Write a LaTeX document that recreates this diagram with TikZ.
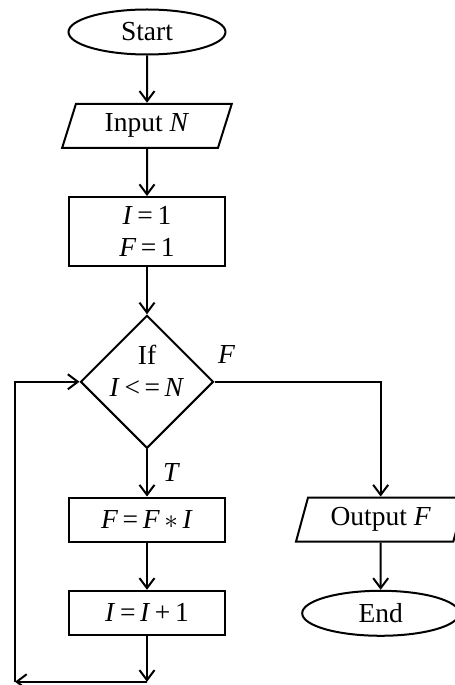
\documentclass[tikz,border=0pt]{standalone}
\usepackage{fontspec}
\setmainfont{Liberation Serif}
\usetikzlibrary{arrows.meta,positioning,shapes.geometric,calc}

\begin{document}
\begin{tikzpicture}[x=0.4pt,y=-0.4pt,node distance=18.9pt,line width=0.8pt,every node/.style={font=\fontsize{11}{12.8}\selectfont},term/.style={draw,ellipse,minimum width=62.8pt,minimum height=18pt,inner sep=0pt},io/.style={draw,trapezium,trapezium left angle=71,trapezium right angle=109,trapezium stretches=true,minimum width=68pt,minimum height=17.6pt,inner sep=0pt},proc/.style={draw,rectangle,align=center,minimum width=62.4pt,minimum height=17.6pt,inner sep=0pt},test/.style={draw,diamond,minimum width=53.2pt,minimum height=53.2pt,inner sep=0pt},lbl/.style={inner sep=0pt},arr/.style={-{Straight Barb[length=4pt,width=6pt]}}]
\useasboundingbox (0,0) rectangle (454,685);
\node[term] (start) at (147,32) {Start};
\node[io,below=of start] (input) {Input \textit{N}};
\node[proc,minimum height=27.6pt,below=of input] (init) {\textit{I}\,=\,1\\\textit{F}\,=\,1};
\node[test,below=of init] (cond) {};
\node[lbl,align=center] (condtxt) at ([yshift=4.4pt]cond.center) {If\\\textit{I}\,<\,=\,\textit{N}};
\node[proc,below=of cond] (fact) {\textit{F}\,=\,\textit{F}\,$\ast$\,\textit{I}};
\node[proc,below=of fact] (inc) {\textit{I}\,=\,\textit{I}\,+\,1};
\node[io,right=30pt of fact] (output) {Output \textit{F}};
\node[term,below=of output] (stop) {End};
\node[lbl,anchor=south west] (flab) at ([shift={(1pt,6.8pt)}]cond.east) {\textit{F}};
\coordinate[below=18.4pt of inc] (loopB);
\coordinate[left=52.8pt of loopB] (loopL);
\draw[arr] (start)--(input);
\draw[arr] (input)--(init);
\draw[arr] (init)--(cond);
\draw[arr] (cond)-- node[lbl,right=6pt] (tlab) {\textit{T}} (fact);
\draw[arr] (fact)--(inc);
\draw[arr] (inc)--(loopB);
\draw[arr] (loopB)--(loopL);
\draw[arr] (loopL)|-(cond.west);
\draw[arr] (cond.east)-|(output.north);
\draw[arr] (output)--(stop);
\end{tikzpicture}
\end{document}
